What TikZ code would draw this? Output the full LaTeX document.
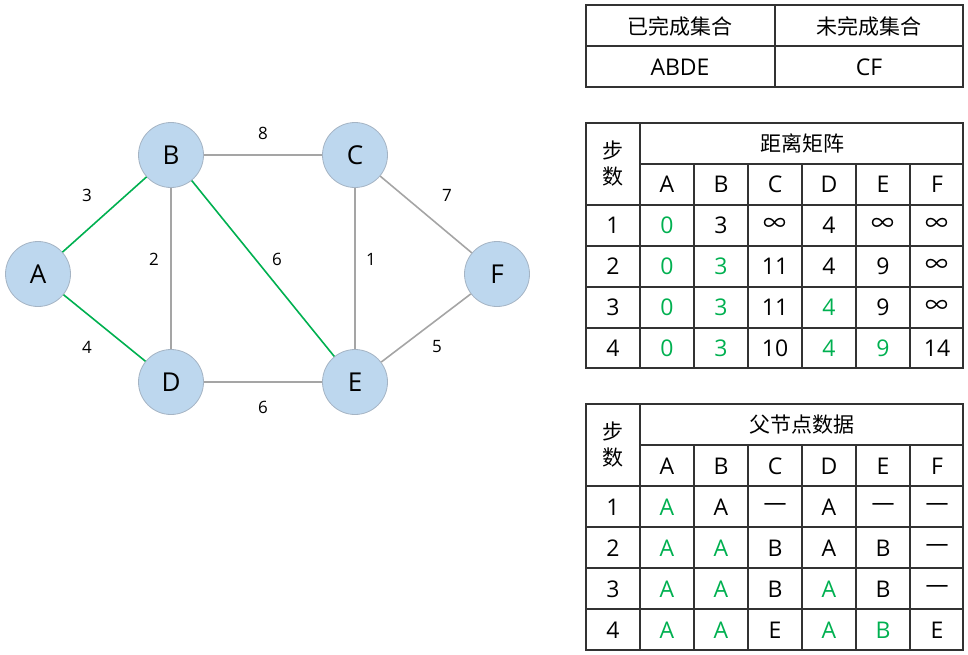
\documentclass[tikz,border=0pt]{standalone}
\usepackage{fontspec}
\setmainfont{Open Sans}
\newfontfamily\cjk{Noto Sans CJK SC}
\usetikzlibrary{positioning}
\definecolor{nodeblue}{RGB}{189,215,238}
\definecolor{nodeline}{RGB}{165,180,196}
\definecolor{edgegray}{RGB}{165,165,165}
\definecolor{treegreen}{RGB}{0,176,80}
\definecolor{gridline}{RGB}{50,50,50}
\newcommand{\settled}{\color{treegreen}}
\newcommand{\infsym}{{\cjk ∞}}
\newcommand{\hanzi}{\cjk\fontsize{21}{26}\selectfont}
\tikzstyle{vertex} = [
    circle,
    minimum size=65pt,
    inner sep=0pt,
    fill=nodeblue,
    draw=nodeline,
    line width=0.8pt,
    font=\fontsize{26}{26}\selectfont
]
\tikzstyle{edge} = [draw=edgegray, line width=1.6pt]
\tikzstyle{tree} = [draw=treegreen, line width=1.6pt]
\tikzstyle{weight} = [font=\fontsize{17}{17}\selectfont]
\tikzstyle{cell} = [font=\fontsize{23}{26}\selectfont]
\tikzstyle{grid} = [draw=gridline, line width=1.2pt]

\begin{document}
\begin{tikzpicture}[x=1pt,y=-1pt]
\useasboundingbox (0,0) rectangle (968,654);

% graph
\node (A) [vertex] at (38,274) {A};
\node (B) [vertex] at (171,155) {B};
\node (C) [vertex] at (355,155) {C};
\node (D) [vertex] at (171,382) {D};
\node (E) [vertex] at (355,382) {E};
\node (F) [vertex] at (497,274) {F};

\draw [tree] (A) -- (B);
\draw [tree] (A) -- (D);
\draw [tree] (B) -- (E);
\draw [edge] (B) -- (C);
\draw [edge] (B) -- (D);
\draw [edge] (C) -- (E);
\draw [edge] (C) -- (F);
\draw [edge] (D) -- (E);
\draw [edge] (E) -- (F);

\node (wAB) [weight] at (87,195) {3};
\node (wAD) [weight] at (87,347) {4};
\node (wBC) [weight] at (263,133) {8};
\node (wBD) [weight] at (154,259) {2};
\node (wBE) [weight] at (277,259) {6};
\node (wCE) [weight] at (371,259) {1};
\node (wCF) [weight] at (447,195) {7};
\node (wEF) [weight] at (437,347) {5};
\node (wDE) [weight] at (263,407) {6};

% sets
\draw [grid] (586,5) rectangle (963,87);
\draw [grid] (586,46) -- (963,46);
\draw [grid] (775,5) -- (775,87);
\node (doneset) [cell] at (680,26) {\hanzi 已完成集合};
\node (openset) [cell] at (869,26) {\hanzi 未完成集合};
\node (donelist) [cell] at (680,67) {ABDE};
\node (openlist) [cell] at (869,67) {CF};

% distance table
\draw [grid] (586,123) rectangle (963,368);
\draw [grid] (640,164) -- (963,164);
\draw [grid] (640,123) -- (640,368);
\foreach \y in {205,246,287,328}
    \draw [grid] (586,\y) -- (963,\y);
\foreach \x in {694,748,802,856,910}
    \draw [grid] (\x,164) -- (\x,368);
\node (disttitle) [cell] at (802,143) {\hanzi 距离矩阵};
\node (diststep) [cell, align=center] at (613,164) {\hanzi 步\\\hanzi 数};
\foreach \lbl [count=\c] in {A,B,C,D,E,F}
    \node (distcol\c) [cell] at (613+54*\c,184) {\lbl};
\foreach \row [count=\r] in {
    {{\settled 0},3,\infsym,4,\infsym,\infsym},
    {{\settled 0},{\settled 3},11,4,9,\infsym},
    {{\settled 0},{\settled 3},11,{\settled 4},9,\infsym},
    {{\settled 0},{\settled 3},10,{\settled 4},{\settled 9},14}} {
    \node (distnum\r) [cell] at (613,184+41*\r) {\r};
    \foreach \v [count=\c] in \row
        \node (dist\r\c) [cell] at (613+54*\c,184+41*\r) {\v};
}

% parent table
\draw [grid] (586,404) rectangle (963,650);
\draw [grid] (640,445) -- (963,445);
\draw [grid] (640,404) -- (640,650);
\foreach \y in {486,527,568,609}
    \draw [grid] (586,\y) -- (963,\y);
\foreach \x in {694,748,802,856,910}
    \draw [grid] (\x,445) -- (\x,650);
\node (partitle) [cell] at (802,425) {\hanzi 父节点数据};
\node (parstep) [cell, align=center] at (613,445) {\hanzi 步\\\hanzi 数};
\foreach \lbl [count=\c] in {A,B,C,D,E,F}
    \node (parcol\c) [cell] at (613+54*\c,466) {\lbl};
\foreach \row [count=\r] in {
    {{\settled A},A,---,A,---,---},
    {{\settled A},{\settled A},B,A,B,---},
    {{\settled A},{\settled A},B,{\settled A},B,---},
    {{\settled A},{\settled A},E,{\settled A},{\settled B},E}} {
    \node (parnum\r) [cell] at (613,466+41*\r) {\r};
    \foreach \v [count=\c] in \row
        \node (par\r\c) [cell] at (613+54*\c,466+41*\r) {\v};
}

\end{tikzpicture}
\end{document}
